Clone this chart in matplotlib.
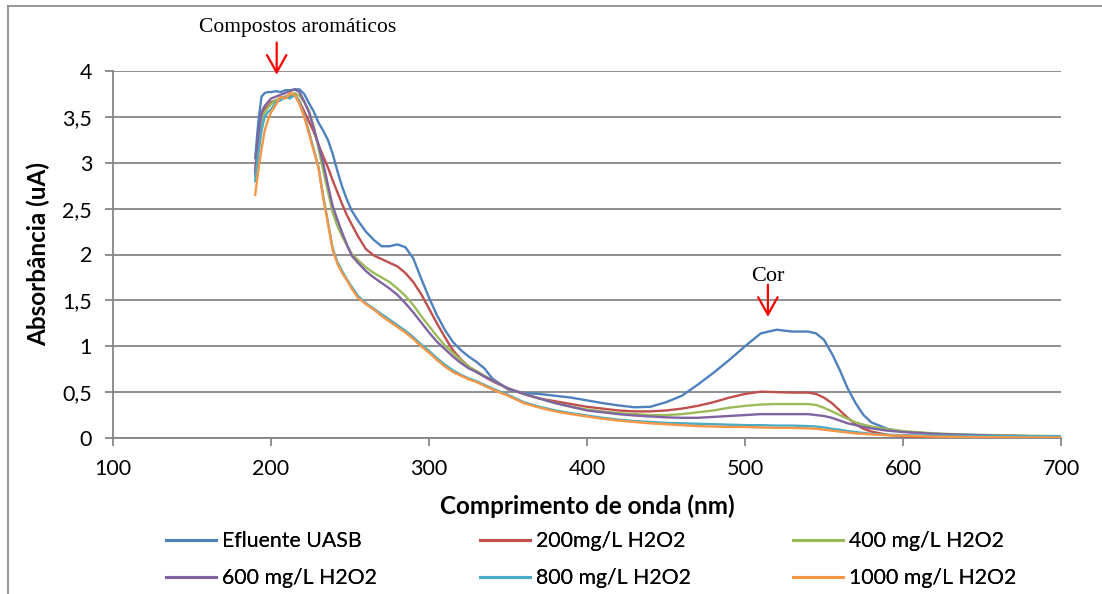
import matplotlib
matplotlib.use("Agg")
import matplotlib.pyplot as plt
from matplotlib.lines import Line2D

# Wavelength grid (nm) shared by all spectra
wavelength = [190, 192, 194, 196, 198, 200,
              203, 206, 209, 212, 215, 218, 221, 224, 227, 230,
              233, 236, 239, 242, 245, 248, 251,
              255,
              260, 265, 270, 275, 280, 285, 290, 295, 300, 305, 310, 315, 320, 325, 330, 335, 340,
              350, 360, 370, 380, 390, 400, 410, 420, 430, 440, 450, 460, 470, 480, 490, 500, 510, 520, 530, 540,
              545, 550, 555, 560, 565, 570, 575, 580,
              590, 600,
              620, 640, 660, 680, 700]

efluente_uasb = [3.05, 3.45, 3.72, 3.76, 3.77, 3.77,
                 3.78, 3.77, 3.79, 3.79, 3.80, 3.80, 3.75, 3.65, 3.56, 3.44,
                 3.35, 3.25, 3.10, 2.91, 2.74, 2.60, 2.48,
                 2.37,
                 2.25, 2.16, 2.09, 2.09, 2.11, 2.08, 1.96, 1.74, 1.53, 1.34, 1.18, 1.05, 0.96, 0.89, 0.83, 0.76, 0.65,
                 0.53, 0.49, 0.48, 0.46, 0.44, 0.41, 0.38, 0.355, 0.335, 0.34, 0.39, 0.46, 0.58, 0.71, 0.85, 1.00, 1.14, 1.18, 1.16, 1.16,
                 1.14, 1.07, 0.92, 0.74, 0.54, 0.38, 0.25, 0.17,
                 0.10, 0.07,
                 0.045, 0.032, 0.025, 0.02, 0.015]

h2o2_200 = [2.92, 3.28, 3.50, 3.58, 3.62, 3.66,
            3.68, 3.70, 3.72, 3.73, 3.74, 3.67, 3.56, 3.45, 3.34, 3.20,
            3.07, 2.95, 2.81, 2.68, 2.55, 2.43, 2.33,
            2.20,
            2.06, 1.99, 1.95, 1.91, 1.87, 1.80, 1.70, 1.57, 1.41, 1.25, 1.10, 0.96, 0.86, 0.78, 0.72, 0.67, 0.62,
            0.54, 0.48, 0.43, 0.40, 0.37, 0.34, 0.32, 0.30, 0.29, 0.29, 0.30, 0.32, 0.35, 0.39, 0.44, 0.48, 0.505, 0.50, 0.495, 0.495,
            0.48, 0.44, 0.38, 0.30, 0.22, 0.15, 0.10, 0.07,
            0.035, 0.018,
            0.008, 0.004, 0.002, 0.0, 0.0]

h2o2_400 = [2.85, 3.20, 3.45, 3.55, 3.60, 3.64,
            3.68, 3.70, 3.72, 3.74, 3.76, 3.73, 3.66, 3.57, 3.40, 3.16,
            2.92, 2.69, 2.46, 2.31, 2.20, 2.10, 2.01,
            1.94,
            1.86, 1.80, 1.75, 1.70, 1.63, 1.55, 1.45, 1.33, 1.22, 1.11, 1.01, 0.93, 0.85, 0.78, 0.73, 0.68, 0.63,
            0.54, 0.48, 0.43, 0.38, 0.34, 0.31, 0.29, 0.27, 0.26, 0.25, 0.25, 0.26, 0.28, 0.30, 0.33, 0.35, 0.365, 0.37, 0.37, 0.37,
            0.36, 0.33, 0.29, 0.25, 0.21, 0.17, 0.145, 0.125,
            0.095, 0.075,
            0.05, 0.037, 0.03, 0.025, 0.02]

h2o2_600 = [2.88, 3.30, 3.55, 3.62, 3.66, 3.70,
            3.72, 3.74, 3.76, 3.78, 3.80, 3.77, 3.67, 3.55, 3.38, 3.20,
            3.00, 2.76, 2.53, 2.38, 2.24, 2.11, 1.99,
            1.91,
            1.82, 1.75, 1.69, 1.63, 1.56, 1.47, 1.37, 1.26, 1.15, 1.05, 0.97, 0.89, 0.82, 0.76, 0.72, 0.67, 0.63,
            0.54, 0.48, 0.43, 0.38, 0.34, 0.30, 0.28, 0.26, 0.245, 0.235, 0.225, 0.22, 0.22, 0.23, 0.24, 0.25, 0.26, 0.26, 0.26, 0.26,
            0.25, 0.24, 0.22, 0.19, 0.16, 0.14, 0.12, 0.105,
            0.08, 0.065,
            0.045, 0.035, 0.025, 0.02, 0.015]

h2o2_800 = [2.80, 3.10, 3.35, 3.50, 3.55, 3.58,
            3.66, 3.68, 3.72, 3.70, 3.74, 3.66, 3.52, 3.34, 3.15, 2.96,
            2.64, 2.36, 2.07, 1.92, 1.82, 1.73, 1.65,
            1.55,
            1.47, 1.41, 1.35, 1.29, 1.23, 1.17, 1.10, 1.02, 0.95, 0.87, 0.80, 0.74, 0.69, 0.65, 0.62, 0.58, 0.54,
            0.47, 0.39, 0.34, 0.30, 0.27, 0.245, 0.22, 0.20, 0.185, 0.175, 0.165, 0.16, 0.155, 0.15, 0.145, 0.14, 0.14, 0.135, 0.135, 0.13,
            0.125, 0.115, 0.10, 0.09, 0.075, 0.065, 0.055, 0.045,
            0.035, 0.03,
            0.025, 0.022, 0.02, 0.02, 0.02]

h2o2_1000 = [2.65, 2.92, 3.15, 3.35, 3.46, 3.55,
             3.63, 3.72, 3.70, 3.76, 3.74, 3.64, 3.50, 3.32, 3.13, 2.95,
             2.62, 2.34, 2.05, 1.90, 1.80, 1.72, 1.63,
             1.53,
             1.46, 1.40, 1.33, 1.27, 1.21, 1.15, 1.08, 1.00, 0.93, 0.85, 0.78, 0.72, 0.68, 0.64, 0.61, 0.57, 0.53,
             0.46, 0.38, 0.33, 0.29, 0.26, 0.235, 0.21, 0.19, 0.175, 0.16, 0.15, 0.14, 0.13, 0.125, 0.12, 0.12, 0.115, 0.11, 0.11, 0.105,
             0.10, 0.09, 0.08, 0.07, 0.06, 0.05, 0.045, 0.04,
             0.03, 0.025,
             0.015, 0.01, 0.008, 0.006, 0.005]

series_labels = ["Efluente UASB", "200mg/L H2O2", "400 mg/L H2O2",
                 "600 mg/L H2O2", "800 mg/L H2O2", "1000 mg/L H2O2"]
series_values = [efluente_uasb, h2o2_200, h2o2_400, h2o2_600, h2o2_800, h2o2_1000]
series_colors = ["#4F81BD", "#C0504D", "#9BBB59", "#8064A2", "#4BACC6", "#F79646"]

x_ticks = [100, 200, 300, 400, 500, 600, 700]
y_ticks = [0, 0.5, 1, 1.5, 2, 2.5, 3, 3.5, 4]
y_tick_labels = ["0", "0,5", "1", "1,5", "2", "2,5", "3", "3,5", "4"]

W, H = 1102, 594
plt.rcParams["font.family"] = ["Lato", "DejaVu Sans"]
grey = "#868686"

fig = plt.figure(figsize=(W / 100, H / 100), dpi=100)
ax = fig.add_axes([113 / W, 1 - 438 / H, (1061 - 113) / W, (438 - 71) / H])

lines = []
for vals, lab, col in zip(series_values, series_labels, series_colors):
    ln, = ax.plot(wavelength, vals, color=col, lw=1.7, label=lab,
                  solid_joinstyle="round", zorder=3)
    lines.append(ln)

ax.set_xlim(100, 700)
ax.set_ylim(0, 4)
ax.set_xticks(x_ticks)
ax.set_xticklabels([str(t) for t in x_ticks])
ax.set_yticks(y_ticks)
ax.set_yticklabels(y_tick_labels)
ax.yaxis.grid(True, color=grey, lw=1.3)
ax.set_axisbelow(True)
for s in ("top", "right"):
    ax.spines[s].set_visible(False)
for s in ("left", "bottom"):
    ax.spines[s].set_color(grey)
    ax.spines[s].set_linewidth(1.3)
ax.tick_params(axis="both", colors=grey, length=6, width=1.3, labelsize=15.5,
               labelcolor="black")
ax.tick_params(axis="y", pad=9)
ax.tick_params(axis="x", pad=9)

ax.set_xlabel("Comprimento de onda (nm)", fontsize=17.5, fontweight="bold", labelpad=11)
ax.set_ylabel("Absorbância (uA)", fontsize=17.5, fontweight="bold", labelpad=9)

# Band annotations
arrow = dict(arrowstyle="->,head_length=1.25,head_width=0.7", color="red", lw=1.6,
             shrinkA=0, shrinkB=0)
ax.annotate("", xy=(203.6, 3.96), xytext=(203.6, 4.31), arrowprops=arrow,
            annotation_clip=False)
ax.text(217, 4.47, "Compostos aromáticos", family="Liberation Serif", fontsize=15.5,
        ha="center", va="center")
ax.annotate("", xy=(514.5, 1.32), xytext=(514.5, 1.67), arrowprops=arrow,
            annotation_clip=False)
ax.text(514.5, 1.755, "Cor", family="Liberation Serif", fontsize=16,
        ha="center", va="center")

# Legend laid out as a 3 x 2 grid of single entries
col_x = [166, 480, 793]
row_y = [541, 578]
for i, ln in enumerate(lines):
    r, c = divmod(i, 3)
    leg = fig.legend(handles=[ln], labels=[ln.get_label()], loc="center left",
                     bbox_to_anchor=(col_x[c] / W, 1 - row_y[r] / H),
                     bbox_transform=fig.transFigure, frameon=False,
                     fontsize=15.3, handlelength=2.35, handletextpad=0.3,
                     borderpad=0, borderaxespad=0)
    for h in leg.legend_handles:
        h.set_linewidth(2.2)
    fig.add_artist(leg)

# Chart-area border
fig.add_artist(Line2D([8 / W, 8 / W], [0, 1 - 6 / H], transform=fig.transFigure,
                      color=grey, lw=1.2))
fig.add_artist(Line2D([8 / W, 1], [1 - 6 / H, 1 - 6 / H], transform=fig.transFigure,
                      color=grey, lw=1.2))

fig.savefig("out.png", dpi=100)
